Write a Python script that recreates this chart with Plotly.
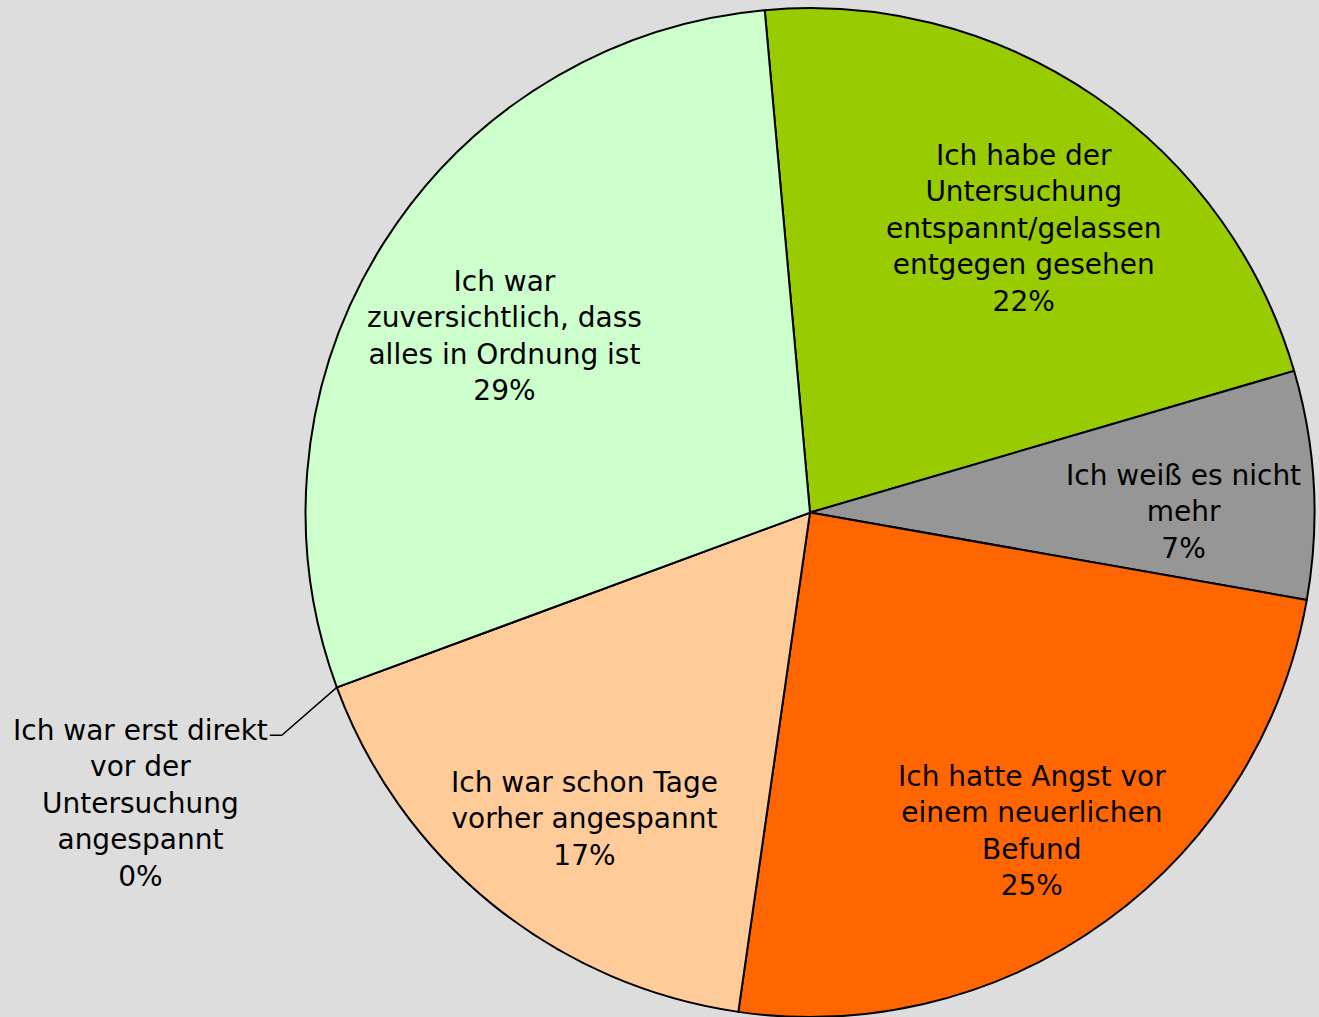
import math
import plotly.graph_objects as go

# slice data, clockwise from just left of 12 o'clock
labels = [
    "Ich habe der<br>Untersuchung<br>entspannt/gelassen<br>entgegen gesehen",
    "Ich weiß es nicht<br>mehr",
    "Ich hatte Angst vor<br>einem neuerlichen<br>Befund",
    "Ich war schon Tage<br>vorher angespannt",
    "Ich war erst direkt<br>vor der<br>Untersuchung<br>angespannt",
    "Ich war<br>zuversichtlich, dass<br>alles in Ordnung ist",
]
values = [21.9, 7.3, 24.5, 17.1, 0.0, 29.2]
colors = ["#99CC00", "#969696", "#FF6600", "#FFCC99", "#FFFF99", "#CCFFCC"]

W, H = 1319, 1017
FONT = dict(family="DejaVu Sans, Liberation Sans, Arial", size=28, color="black")
start_angle = -5.15
dom_x = [0.2312, 0.9970]
dom_y = [0.0, 0.992]
label_r = 0.73  # label distance from centre, as fraction of radius
label_shift = (6, 20)  # excel anchors its labels a bit below the mid point

fig = go.Figure(
    go.Pie(
        labels=labels,
        values=values,
        sort=False,
        direction="clockwise",
        rotation=start_angle,
        marker=dict(colors=colors, line=dict(color="black", width=2)),
        textinfo="none",
        domain=dict(x=dom_x, y=dom_y),
        showlegend=False,
        hoverinfo="label+percent",
    )
)

# pie geometry in pixels, used to place the labels like the original chart
cx = (dom_x[0] + dom_x[1]) / 2 * W
cy = (1 - (dom_y[0] + dom_y[1]) / 2) * H
r = min((dom_x[1] - dom_x[0]) * W, (dom_y[1] - dom_y[0]) * H) / 2
total = sum(values)

cum = 0.0
for lab, v in zip(labels, values):
    pct = math.floor(100 * v / total + 0.5)
    if v > 0:
        mid = math.radians(start_angle + 360 * (cum + v / 2) / total)
        lx = cx + label_r * r * math.sin(mid) + label_shift[0]
        ly = cy - label_r * r * math.cos(mid) + label_shift[1]
        fig.add_annotation(
            x=lx / W, y=1 - ly / H,
            xref="paper", yref="paper",
            xanchor="center", yanchor="middle",
            text="{}<br>{}%".format(lab, pct),
            showarrow=False, align="center", font=FONT,
        )
    else:
        # 0% slice: label outside with a bent leader line
        ang = math.radians(start_angle + 360 * cum / total)
        ex, ey = cx + r * math.sin(ang), cy - r * math.cos(ang)
        fig.add_shape(
            type="path",
            xref="paper", yref="paper",
            path="M {} {} L {} {} L {} {}".format(
                ex / W, 1 - ey / H,
                (ex - 55) / W, 1 - (ey + 48) / H,
                (ex - 67) / W, 1 - (ey + 48) / H,
            ),
            line=dict(color="black", width=1.5),
        )
        fig.add_annotation(
            x=140 / W, y=1 - 712 / H,
            xref="paper", yref="paper",
            xanchor="center", yanchor="top",
            text="{}<br>{}%".format(lab, pct),
            showarrow=False, align="center", font=FONT,
        )
    cum += v

fig.update_layout(
    width=W, height=H,
    margin=dict(l=0, r=0, t=0, b=0),
    paper_bgcolor="#DDDDDD",
    plot_bgcolor="#DDDDDD",
    font=FONT,
)

fig.write_html(
    "out.html",
    config={"displayModeBar": False},
    post_script="document.body.style.margin='0';document.body.style.background='#DDDDDD';",
)
